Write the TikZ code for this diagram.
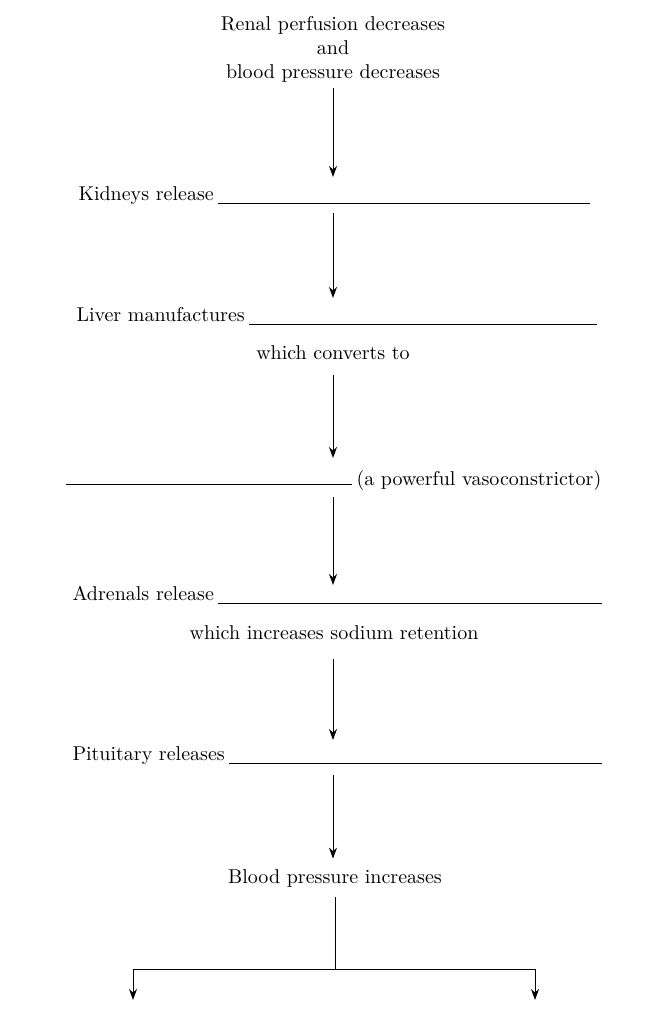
\documentclass[tikz,border=0pt]{standalone}
\usepackage{tikz}
\usetikzlibrary{calc, arrows.meta}
\tikzset{>={Stealth[length=5.5pt, width=4pt]}}

\begin{document}
\begin{tikzpicture}[x=0.5pt, y=-0.5pt, line width=0.5pt,
    font=\fontsize{10}{12}\selectfont,
    lbl/.style={anchor=base west, inner sep=2pt},
    txt/.style={inner sep=1pt, align=center}]
    \useasboundingbox (0,0) rectangle (657,1023);
    % top
    \node[txt] (renal) at (333,49) {Renal perfusion decreases\\and\\blood pressure decreases};
    % blanks to fill in
    \node[lbl] (kidneys) at (74,200) {Kidneys release};
    \coordinate (kidneysend) at (590,203);
    \draw (kidneys.east |- kidneysend) -- (kidneysend);
    \node[lbl] (liver) at (72,321) {Liver manufactures};
    \coordinate (liverend) at (597,324);
    \draw (liver.east |- liverend) -- (liverend);
    \node[txt] (converts) at (333,353) {which converts to};
    \coordinate (vasostart) at (66,484);
    \node[lbl] (vaso) at (352,485) {(a powerful vasoconstrictor)};
    \draw (vasostart) -- (vasostart -| vaso.west);
    \node[lbl] (adrenals) at (68,600) {Adrenals release};
    \coordinate (adrenalsend) at (602,603);
    \draw (adrenals.east |- adrenalsend) -- (adrenalsend);
    \node[txt] (sodium) at (334,633) {which increases sodium retention};
    \node[lbl] (pituitary) at (68,760) {Pituitary releases};
    \coordinate (pituitaryend) at (602,763);
    \draw (pituitary.east |- pituitaryend) -- (pituitaryend);
    \node[txt] (bp) at (335,878) {Blood pressure increases};
    % arrows down the middle
    \coordinate (kidneysmid) at (333,203);
    \coordinate (livermid) at (333,324);
    \coordinate (vasomid) at (333,484);
    \coordinate (adrenalsmid) at (333,603);
    \coordinate (pituitarymid) at (333,763);
    \draw[->] (renal.south) ++(0,4) -- ([yshift=13pt]kidneysmid);
    \draw[->] ([yshift=-5pt]kidneysmid) -- ([yshift=13pt]livermid);
    \draw[->] ([yshift=-6pt]converts.south) -- ([yshift=13pt]vasomid);
    \draw[->] ([yshift=-6.5pt]vasomid) -- ([yshift=9pt]adrenalsmid);
    \draw[->] ([yshift=-8pt]sodium.south -| pituitarymid) -- ([yshift=11.5pt]pituitarymid);
    \draw[->] ([yshift=-6pt]pituitarymid) -- ([yshift=4pt]pituitarymid |- bp.north);
    % split at the bottom
    \coordinate (split) at (335,969);
    \coordinate (leftend) at (133,1000);
    \coordinate (rightend) at (535,1000);
    \draw ([yshift=-4pt]bp.south) -- (split);
    \draw[->] (split) -| (leftend);
    \draw[->] (split) -| (rightend);
\end{tikzpicture}
\end{document}
